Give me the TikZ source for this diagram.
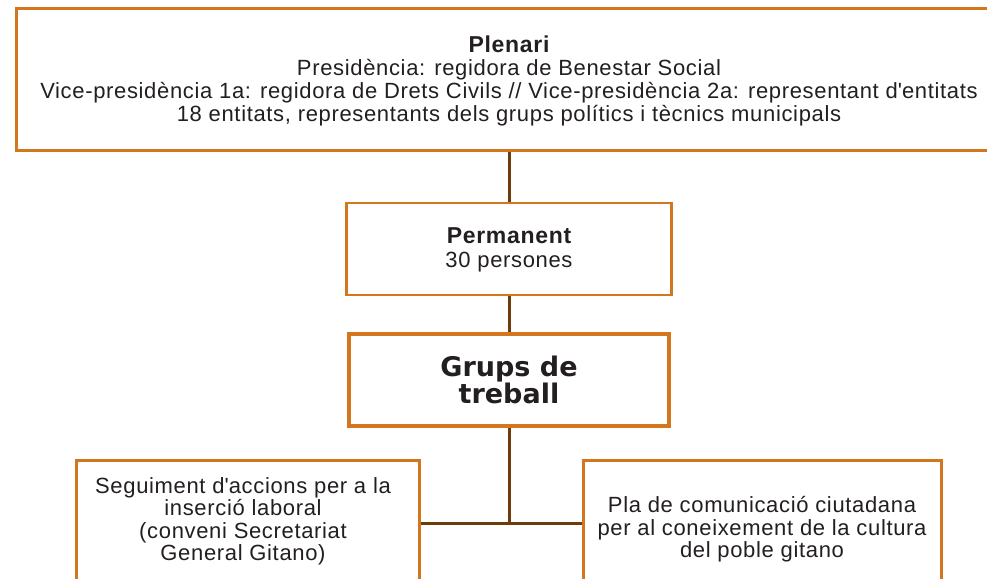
\documentclass[tikz,border=0pt]{standalone}
\usepackage{fontspec}
\setmainfont{Liberation Sans}[LetterSpace=3]
\newfontfamily\heavyfont{DejaVu Sans}
\usetikzlibrary{positioning}
\usetikzlibrary{backgrounds}
\definecolor{boxorange}{HTML}{D4761E}
\definecolor{linkbrown}{HTML}{6E3B0B}
\definecolor{inkgray}{HTML}{231F20}

\begin{document}
\begin{tikzpicture}[x=1pt,y=-1pt,
  orgbox/.style={draw=boxorange,line width=3pt,fill=white,inner sep=0pt},
  orgtext/.style={text=inkgray,align=center,inner sep=0pt},
  link/.style={draw=linkbrown,line width=3pt}]
\useasboundingbox (0,0) rectangle (987,578);
\clip (0,0) rectangle (987,578);

\node[orgbox,minimum width=986pt,minimum height=141pt] (plenari) at (509,79.5) {};
\node[orgbox,line width=2.5pt,minimum width=325pt,minimum height=92pt] (permanent) at (509,249) {};
\node[orgbox,line width=3.5pt,minimum width=320pt,minimum height=92pt] (grups) at (509,380) {};
\node[orgbox,minimum width=343pt,minimum height=200pt] (seguiment) at (247.5,560) {};
\node[orgbox,minimum width=358pt,minimum height=200pt] (pla) at (762,560) {};

\node[orgtext,font=\fontsize{22}{23}\selectfont] (plenaritxt) at (509,81.4)
  {{\fontsize{23}{23}\selectfont\bfseries Plenari}\\
   Presidència: regidora de Benestar Social\\
   Vice-presidència 1a: regidora de Drets Civils // Vice-presidència 2a: representant d\textquotesingle entitats\\
   18 entitats, representants dels grups polítics i tècnics municipals};
\node[orgtext,font=\fontsize{22}{24}\selectfont] (permanenttxt) at (509,249.4)
  {{\fontsize{23}{24}\selectfont\bfseries Permanent}\\30 persones};
\node[orgtext,font=\fontsize{27}{27}\selectfont\heavyfont\bfseries] (grupstxt) at (509,379.5)
  {Grups de\\treball};
\node[orgtext,font=\fontsize{22}{22.5}\selectfont] (seguimenttxt) at (243,521.5)
  {Seguiment d\textquotesingle accions per a la\\inserció laboral\\ (conveni Secretariat\\General Gitano)};
\node[orgtext,font=\fontsize{22}{22.5}\selectfont] (platxt) at (762,529.3)
  {Pla de comunicació ciutadana\\per al coneixement de la cultura\\del poble gitano};

\coordinate (split) at (509,523);
\begin{pgfonlayer}{background}
\draw[link] (plenari.south) -- (permanent.north);
\draw[link] (permanent.south) -- (grups.north);
\draw[link] (grups.south) -- (split);
\draw[link] (seguiment.east |- split) -- (pla.west |- split);
\end{pgfonlayer}
\end{tikzpicture}
\end{document}
